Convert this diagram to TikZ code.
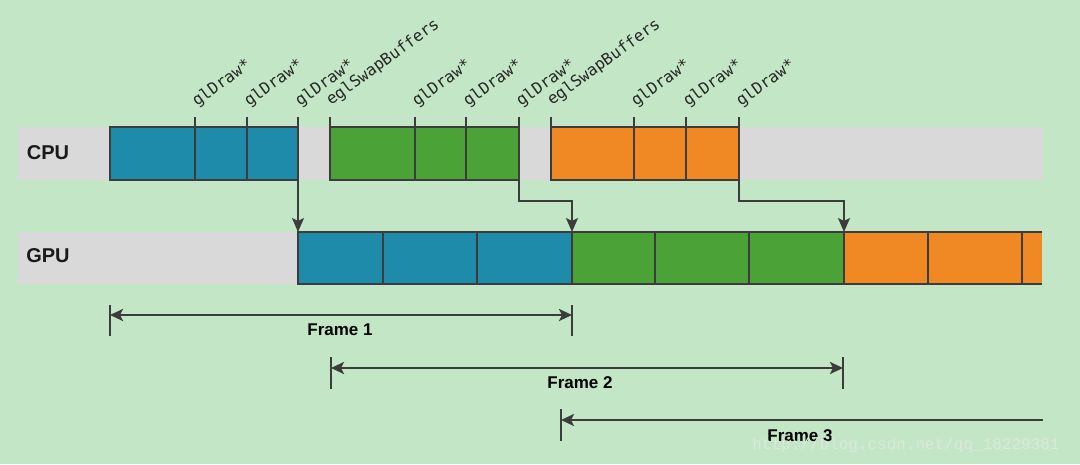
\documentclass[tikz,border=0pt]{standalone}
\usepackage{fontspec}
\setmainfont{Liberation Sans}
\setmonofont{DejaVu Sans Mono}
\newfontfamily\wmfont{Liberation Mono}
\usetikzlibrary{arrows.meta}
\definecolor{bgc}{RGB}{194,230,198}
\definecolor{barc}{RGB}{217,217,217}
\definecolor{bluec}{RGB}{31,139,170}
\definecolor{greenc}{RGB}{75,163,55}
\definecolor{orangec}{RGB}{240,137,35}
\definecolor{linec}{RGB}{60,60,60}
\definecolor{wmc}{RGB}{222,231,222}
\begin{document}
\begin{tikzpicture}[x=1pt,y=-1pt,
  bar/.style={fill=barc,draw=none,inner sep=0,outer sep=0,anchor=north west},
  blk/.style={draw=linec,line width=1.5pt,inner sep=0,outer sep=0,anchor=north west},
  fillblk/.style={draw=none,inner sep=0,outer sep=0,anchor=north west},
  tick/.style={draw=linec,line width=1.5pt},
  conn/.style={draw=linec,line width=1.5pt,-{Stealth[length=14pt,width=12pt,inset=3pt]}},
  farr/.style={draw=linec,line width=2.5pt,{Stealth[length=13pt,width=12pt,inset=3pt]}-{Stealth[length=13pt,width=12pt,inset=3pt]}},
  farrl/.style={draw=linec,line width=2.5pt,{Stealth[length=13pt,width=12pt,inset=3pt]}-},
  fbar/.style={draw=linec,line width=1.5pt},
  lbl/.style={font=\ttfamily\fontsize{16}{16}\selectfont,anchor=base west,rotate=36,inner sep=0,text=black!85},
  rowlbl/.style={font=\bfseries\fontsize{20}{20}\selectfont,text=black!90,inner sep=0},
  flbl/.style={font=\bfseries\fontsize{17}{17}\selectfont,text=black,inner sep=0},
  wm/.style={font=\wmfont\fontsize{16}{16}\selectfont,text=wmc,inner sep=0}]
\fill[bgc] (0,0) rectangle (1080,464);
\useasboundingbox (0,0) rectangle (1080,464);

% gray bars
\node[bar,minimum width=1025pt,minimum height=53pt] (cpubar) at (18,127) {};
\node[bar,minimum width=1024pt,minimum height=52pt] (gpubar) at (18,232) {};
\node[rowlbl] (cpulbl) at (48,153) {CPU};
\node[rowlbl] (gpulbl) at (48,256) {GPU};

% CPU blocks
\node[blk,fill=bluec,minimum width=188pt,minimum height=53pt] (cb) at (110,127) {};
\node[blk,fill=greenc,minimum width=189pt,minimum height=53pt] (cg) at (330,127) {};
\node[blk,fill=orangec,minimum width=188pt,minimum height=53pt] (co) at (551,127) {};

% GPU blocks
\node[blk,fill=bluec,minimum width=274pt,minimum height=52pt] (gb) at (298,232) {};
\node[blk,fill=greenc,minimum width=272pt,minimum height=52pt] (gg) at (572,232) {};
\node[fillblk,fill=orangec,minimum width=198pt,minimum height=52pt] (go) at (844,232) {};
\draw[tick] (go.north west) -- (go.north east);
\draw[tick] (go.south west) -- (go.south east);
\draw[tick] (go.north west) -- (go.south west);

% CPU ticks and dividers
\foreach \x in {195,247,415,466,634,686}{\draw[tick] (\x,117) -- (\x,180);}
\foreach \x in {298,330,519,551,739}{\draw[tick] (\x,117) -- (\x,127);}

% GPU dividers
\foreach \x in {383,477,655,749,928,1022}{\draw[tick] (\x,232) -- (\x,284);}

% labels
\foreach \x in {195,247,298,415,466,519,634,686,739}{\node[lbl] at (\x+2,107) {glDraw*};}
\foreach \x in {330,551}{\node[lbl] at (\x+1,106) {eglSwapBuffers};}

% connectors
\draw[conn] (cb.south east) -- (gb.north west);
\draw[conn] (cg.south east) -- ++(0,21) -| (gg.north west);
\draw[conn] (co.south east) -- ++(0,21) -| (go.north west);

% frames
\coordinate (f1l) at (110,315); \coordinate (f1r) at (572,315);
\coordinate (f2l) at (331,368); \coordinate (f2r) at (843,368);
\coordinate (f3l) at (561,420); \coordinate (f3r) at (1043,420);
\draw[fbar] (110,305) -- (110,336);
\draw[fbar] (572,305) -- (572,336);
\draw[fbar] (331,357) -- (331,389);
\draw[fbar] (843,357) -- (843,389);
\draw[fbar] (561,409) -- (561,441);
\draw[farr] (f1l) -- (f1r);
\draw[farr] (f2l) -- (f2r);
\draw[farrl] (f3l) -- (f3r);
\node[flbl] (fr1) at (340,330) {Frame 1};
\node[flbl] (fr2) at (580,383) {Frame 2};
\node[flbl] (fr3) at (800,436) {Frame 3};

% watermark
\node[wm] (wmk) at (906,445) {http://blog.csdn.net/qq\_18229381};
\end{tikzpicture}
\end{document}
